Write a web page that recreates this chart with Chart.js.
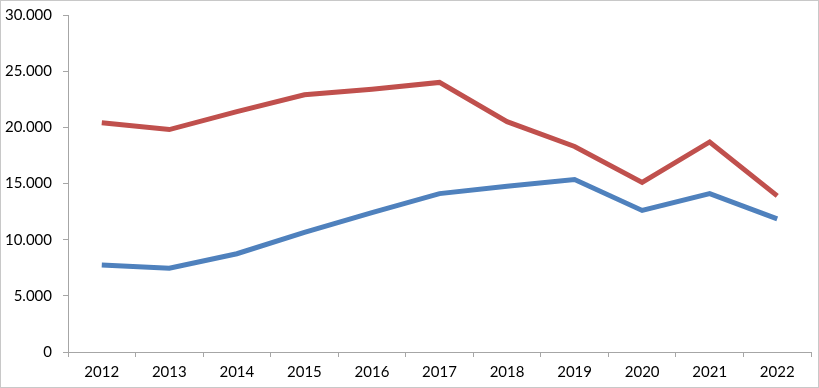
<!DOCTYPE html>
<html>
<head>
<meta charset="utf-8">
<script src="https://cdn.jsdelivr.net/npm/chart.js@4"></script>
<style>
  html, body { margin: 0; padding: 0; background: #fff; }
  #wrap { position: absolute; left: 0; top: 0; width: 819px; height: 388px; box-sizing: border-box; border: 1px solid #c8c8c8; }
  canvas { display: block; }
</style>
</head>
<body>
<div id="wrap"><canvas id="chart" width="817" height="386"></canvas></div>
<script>
var years = ["2012", "2013", "2014", "2015", "2016", "2017", "2018", "2019", "2020", "2021", "2022"];
var redSeries = [20400, 19800, 21400, 22900, 23400, 24000, 20500, 18300, 15100, 18700, 13900];
var blueSeries = [7750, 7450, 8750, 10650, 12400, 14100, 14750, 15350, 12600, 14100, 11850];
var yTicks = [0, 5000, 10000, 15000, 20000, 25000, 30000];

function fmt(v){
  return String(v).replace(/\B(?=(\d{3})+(?!\d))/g, ".");
}

var ctx = document.getElementById("chart").getContext("2d");
new Chart(ctx, {
  type: "line",
  data: {
    labels: years,
    datasets: [
      { label: "red", data: redSeries, borderColor: "#C0504D", borderWidth: 5, pointRadius: 0, tension: 0, fill: false },
      { label: "blue", data: blueSeries, borderColor: "#4F81BD", borderWidth: 5, pointRadius: 0, tension: 0, fill: false }
    ]
  },
  options: {
    responsive: false,
    animation: false,
    layout: { padding: { top: 14, right: 7, left: 0, bottom: 0 } },
    plugins: { legend: { display: false }, tooltip: { enabled: false } },
    scales: {
      x: {
        offset: true,
        grid: { drawOnChartArea: false, drawTicks: true, tickLength: 5, color: "#a6a6a6", offset: true },
        border: { color: "#a6a6a6", width: 1 },
        ticks: { color: "#000", padding: 6, font: { family: "Lato", size: 15 }, maxRotation: 0 },
        afterFit: function(scale){ scale.height = 35; scale.paddingLeft = 0; scale.paddingRight = 0; }
      },
      y: {
        min: 0,
        max: 30000,
        afterBuildTicks: function(scale){ scale.ticks = yTicks.map(function(v){ return { value: v }; }); },
        grid: { drawOnChartArea: false, drawTicks: true, tickLength: 5, color: "#a6a6a6" },
        border: { color: "#a6a6a6", width: 1 },
        ticks: { color: "#000", padding: 11, font: { family: "Lato", size: 15 }, callback: function(v){ return fmt(v); } },
        afterFit: function(scale){ scale.width = 67; scale.paddingTop = 0; scale.paddingBottom = 0; }
      }
    }
  }
});
</script>
</body>
</html>
